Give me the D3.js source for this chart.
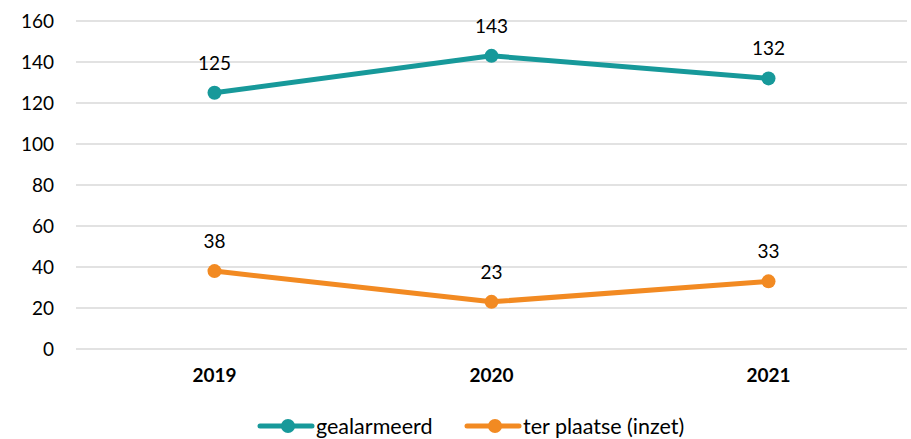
<!DOCTYPE html>
<html><head><meta charset="utf-8">
<script src="https://cdn.jsdelivr.net/npm/d3@7"></script>
<style>body{margin:0;background:#fff}svg{display:block}</style>
</head><body>
<svg id="c" width="911" height="439"></svg>
<script>
const categories = ["2019", "2020", "2021"];
const seriesNames = ["gealarmeerd", "ter plaatse (inzet)"];
const gealarmeerd = [125, 143, 132];
const terPlaatse = [38, 23, 33];
const yTicks = [0, 20, 40, 60, 80, 100, 120, 140, 160];
const colors = ["#17999a", "#f28a22"];

const svg = d3.select("#c");
const font = "Lato, 'Open Sans', sans-serif";
const x = d3.scaleBand().domain(categories).range([76, 907]);
const y = d3.scaleLinear().domain([0, 160]).range([349, 21]);

// gridlines
svg.append("g").selectAll("line").data(yTicks).join("line")
  .attr("x1", 76).attr("x2", 907)
  .attr("y1", d => y(d)).attr("y2", d => y(d))
  .attr("stroke", "#d9d9d9").attr("stroke-width", 1.5);

// y axis
const ya = svg.append("g").attr("transform", "translate(60,0)")
  .call(d3.axisLeft(y).tickValues(yTicks).tickSize(0).tickPadding(6));
ya.select(".domain").remove();
ya.selectAll("text").attr("font-family", font).attr("font-size", 19).attr("fill", "#000");

// x axis
const xa = svg.append("g").attr("transform", "translate(0,368)")
  .call(d3.axisBottom(x).tickSize(0).tickPadding(0));
xa.select(".domain").remove();
xa.selectAll("text").attr("font-family", font).attr("font-size", 19)
  .attr("font-weight", "bold").attr("fill", "#000").attr("dy", "0.71em");

const series = [gealarmeerd, terPlaatse];
const line = d3.line().x((d, i) => x(categories[i]) + x.bandwidth() / 2).y(d => y(d));

series.forEach((vals, si) => {
  const g = svg.append("g");
  g.append("path").datum(vals).attr("d", line)
    .attr("fill", "none").attr("stroke", colors[si]).attr("stroke-width", 5)
    .attr("stroke-linejoin", "round");
  g.selectAll("circle").data(vals).join("circle")
    .attr("cx", (d, i) => x(categories[i]) + x.bandwidth() / 2)
    .attr("cy", d => y(d)).attr("r", 7).attr("fill", colors[si]);
  g.selectAll("text").data(vals).join("text")
    .attr("x", (d, i) => x(categories[i]) + x.bandwidth() / 2)
    .attr("y", d => y(d) - 23)
    .attr("text-anchor", "middle")
    .attr("font-family", font).attr("font-size", 19).attr("fill", "#000")
    .text(d => d);
});

// legend
const legX = [260, 467];
seriesNames.forEach((name, i) => {
  const g = svg.append("g").attr("transform", `translate(${legX[i]},426)`);
  g.append("line").attr("x1", 0).attr("x2", 52).attr("y1", 0).attr("y2", 0)
    .attr("stroke", colors[i]).attr("stroke-width", 5).attr("stroke-linecap", "round");
  g.append("circle").attr("cx", 28).attr("cy", 0).attr("r", 7).attr("fill", colors[i]);
  g.append("text").attr("x", 56).attr("y", 0).attr("dy", "0.35em")
    .attr("font-family", font).attr("font-size", 21.5).attr("fill", "#000").text(name);
});
</script>
</body></html>
